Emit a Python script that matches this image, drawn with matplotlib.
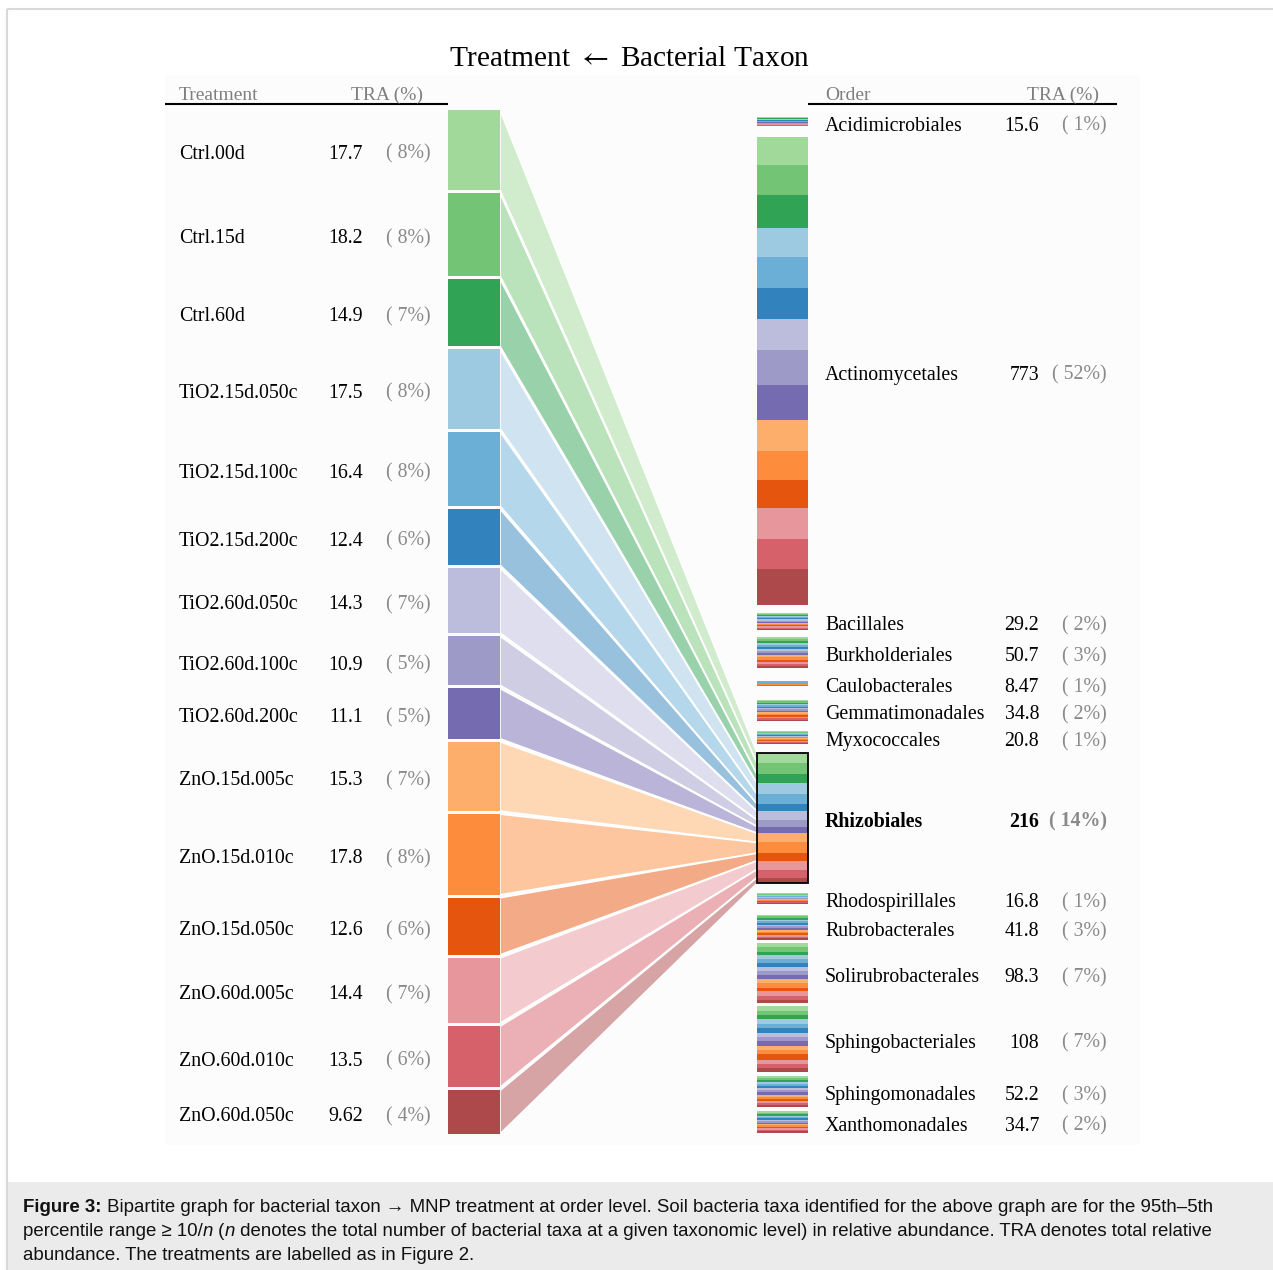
import matplotlib
matplotlib.use("Agg")
import matplotlib.pyplot as plt
from matplotlib.patches import Rectangle, Polygon
from matplotlib.colors import to_rgb
import numpy as np

plt.rcParams["mathtext.fontset"] = "stix"

SERIF = ["Liberation Serif", "DejaVu Serif"]
SANS = ["Liberation Sans", "DejaVu Sans"]

# ---------------------------------------------------------------- data
treatments = ["Ctrl.00d", "Ctrl.15d", "Ctrl.60d",
              "TiO2.15d.050c", "TiO2.15d.100c", "TiO2.15d.200c",
              "TiO2.60d.050c", "TiO2.60d.100c", "TiO2.60d.200c",
              "ZnO.15d.005c", "ZnO.15d.010c", "ZnO.15d.050c",
              "ZnO.60d.005c", "ZnO.60d.010c", "ZnO.60d.050c"]
# Rhizobiales abundance in each treatment
treatment_tra = [17.7, 18.2, 14.9, 17.5, 16.4, 12.4, 14.3, 10.9, 11.1,
                 15.3, 17.8, 12.6, 14.4, 13.5, 9.62]
treatment_colors = ["#a1d99b", "#74c476", "#31a354",
                    "#9ecae1", "#6baed6", "#3182bd",
                    "#bcbddc", "#9e9ac8", "#756bb1",
                    "#fdae6b", "#fd8d3c", "#e6550d",
                    "#e7969c", "#d6616b", "#ad494a"]

orders = ["Acidimicrobiales", "Actinomycetales", "Bacillales", "Burkholderiales",
          "Caulobacterales", "Gemmatimonadales", "Myxococcales", "Rhizobiales",
          "Rhodospirillales", "Rubrobacterales", "Solirubrobacterales",
          "Sphingobacteriales", "Sphingomonadales", "Xanthomonadales"]
order_tra = [15.6, 773, 29.2, 50.7, 8.47, 34.8, 20.8, 216, 16.8, 41.8,
             98.3, 108, 52.2, 34.7]
highlight = "Rhizobiales"

# abundance of each order split over the 15 treatments (same order as above)
acidimicrobiales = [1.2, 1.0, 0.9, 1.1, 1.0, 0.8, 1.2, 0.9, 1.0, 1.2, 1.1, 0.9, 1.3, 1.0, 1.0]
actinomycetales = [46.3, 49.6, 54.5, 47.9, 51.2, 51.2, 51.2, 57.9, 57.9,
                   51.2, 47.9, 46.3, 51.2, 49.6, 59.1]
bacillales = [1.8, 2.0, 1.7, 2.1, 1.9, 1.6, 2.2, 1.8, 1.9, 2.3, 2.0, 1.8, 2.2, 2.1, 1.8]
burkholderiales = [3.2, 3.5, 3.0, 3.6, 3.3, 3.1, 3.4, 3.2, 3.5, 3.6, 3.8, 3.4, 3.5, 3.3, 3.3]
caulobacterales = [0.52, 0.60, 0.50, 0.58, 0.54, 0.49, 0.60, 0.53, 0.56,
                   0.62, 0.58, 0.55, 0.61, 0.59, 0.60]
gemmatimonadales = [2.1, 2.3, 2.0, 2.4, 2.2, 2.0, 2.5, 2.3, 2.4, 2.6, 2.5, 2.2, 2.6, 2.4, 2.3]
myxococcales = [1.3, 1.4, 1.2, 1.5, 1.4, 1.2, 1.5, 1.3, 1.4, 1.5, 1.4, 1.3, 1.5, 1.5, 1.4]
rhizobiales = treatment_tra
rhodospirillales = [1.1, 1.2, 1.0, 1.2, 1.1, 1.0, 1.2, 1.0, 1.1, 1.2, 1.2, 1.0, 1.2, 1.1, 1.2]
rubrobacterales = [2.8, 3.0, 2.6, 2.9, 2.8, 2.5, 2.9, 2.7, 2.8, 3.0, 2.9, 2.6, 3.0, 2.8, 2.5]
solirubrobacterales = [6.5, 6.8, 6.2, 6.9, 6.6, 6.0, 7.1, 6.4, 6.7, 6.8, 7.0, 6.3, 6.9, 6.5, 5.6]
sphingobacteriales = [6.8, 7.2, 7.0, 7.4, 7.1, 7.8, 7.3, 6.9, 7.5, 7.2, 7.0, 8.6, 7.1, 6.9, 6.2]
sphingomonadales = [3.3, 3.5, 3.2, 3.6, 3.4, 3.3, 3.7, 3.4, 3.5, 3.6, 3.7, 3.4, 3.6, 3.5, 3.5]
xanthomonadales = [2.2, 2.4, 2.1, 2.4, 2.3, 2.2, 2.4, 2.2, 2.3, 2.5, 2.4, 2.2, 2.5, 2.3, 2.3]

order_splits = [acidimicrobiales, actinomycetales, bacillales, burkholderiales,
                caulobacterales, gemmatimonadales, myxococcales, rhizobiales,
                rhodospirillales, rubrobacterales, solirubrobacterales,
                sphingobacteriales, sphingomonadales, xanthomonadales]

caption_lines = [
    [("Figure 3:", "bold"),
     (" Bipartite graph for bacterial taxon \u2192 MNP treatment at order level. "
      "Soil bacteria taxa identified for the above graph are for the 95th\u20135th", "normal")],
    [("percentile range \u2265 10/", "normal"), ("n", "italic"), (" (", "normal"),
     ("n", "italic"),
     (" denotes the total number of bacterial taxa at a given taxonomic level) in "
      "relative abundance. TRA denotes total relative", "normal")],
    [("abundance. The treatments are labelled as in Figure 2.", "normal")],
]

# ---------------------------------------------------------------- canvas
W, H = 1273, 1270
fig = plt.figure(figsize=(W / 100, H / 100), dpi=100)
ax = fig.add_axes([0, 0, 1, 1])
ax.set_xlim(0, W)
ax.set_ylim(H, 0)
ax.axis("off")

# page frame, caption panel and plot panel
ax.add_patch(Rectangle((8, 1182), W - 8, H - 1182, fc="#ebebeb", ec="none", zorder=0))
ax.plot([7, 7], [9, H], color="#d9d9d9", lw=1.5, solid_capstyle="butt", zorder=1)
ax.plot([7, W], [9, 9], color="#d9d9d9", lw=1.5, solid_capstyle="butt", zorder=1)
ax.add_patch(Rectangle((165, 75), 975, 1070, fc="#fcfcfc", ec="none", zorder=0))

# ---------------------------------------------------------------- layout
L_X, L_W, L_TOP, L_BOT, L_GAP = 448, 52, 110, 1134, 3
l_scale = (L_BOT - L_TOP - L_GAP * (len(treatments) - 1)) / sum(treatment_tra)
left_spans = []
y = L_TOP
for v in treatment_tra:
    h = v * l_scale
    left_spans.append((y, y + h))
    y += h + L_GAP

R_X, R_W, R_TOP, R_BOT = 757, 51, 117, 1132.5
order_gaps = [10.5, 7.5, 7, 13, 14, 10, 9, 10, 11, 3.5, 3.5, 4, 4]
r_scale = (R_BOT - R_TOP - sum(order_gaps)) / sum(order_tra)
right_spans = []
y = R_TOP
for i, v in enumerate(order_tra):
    h = v * r_scale
    right_spans.append((y, y + h))
    if i < len(order_gaps):
        y += h + order_gaps[i]

# ---------------------------------------------------------------- right stacks
stripe_spans = {}
for name, split, (y0, y1) in zip(orders, order_splits, right_spans):
    tot = sum(split)
    yy = y0
    spans = []
    for v, c in zip(split, treatment_colors):
        h = v / tot * (y1 - y0)
        ax.add_patch(Rectangle((R_X, yy), R_W, h, fc=c, ec="none", zorder=3))
        spans.append((yy, yy + h))
        yy += h
    stripe_spans[name] = spans
    if name == highlight:
        ax.add_patch(Rectangle((R_X, y0), R_W, y1 - y0, fill=False,
                               ec="black", lw=1.3, zorder=4))

# ---------------------------------------------------------------- flows
for (a0, a1), (b0, b1), c in zip(left_spans, stripe_spans[highlight], treatment_colors):
    face = np.array(to_rgb(c)) * 0.5 + 0.5
    ax.add_patch(Polygon([(L_X + L_W, a0), (R_X, b0), (R_X, b1), (L_X + L_W, a1)],
                         closed=True, fc=face, ec="white", lw=1.2, zorder=2))

# ---------------------------------------------------------------- left bars
for (a0, a1), c in zip(left_spans, treatment_colors):
    ax.add_patch(Rectangle((L_X, a0), L_W, a1 - a0, fc=c, ec="none", zorder=3))

# ---------------------------------------------------------------- texts
FS = 14.3
GRAY = "#8a8a8a"
BASE = 8.8

ax.text(629, 59, r"Treatment $\leftarrow$ Bacterial Taxon", family=SERIF, fontsize=21.2,
        ha="center", va="center", color="black")

# column headers
ax.text(179, 100, "Treatment", family=SERIF, fontsize=14, color="#7f7f7f", va="baseline")
ax.text(423, 100, "TRA (%)", family=SERIF, fontsize=14, color="#7f7f7f",
        ha="right", va="baseline")
ax.plot([165, 448], [104, 104], color="black", lw=1.5, solid_capstyle="butt")
ax.text(825, 100, "Order", family=SERIF, fontsize=14, color="#7f7f7f", va="baseline")
ax.text(1099, 100, "TRA (%)", family=SERIF, fontsize=14, color="#7f7f7f",
        ha="right", va="baseline")
ax.plot([808, 1117], [104, 104], color="black", lw=1.5, solid_capstyle="butt")

l_total = sum(treatment_tra)
for name, v, (a0, a1) in zip(treatments, treatment_tra, left_spans):
    yb = (a0 + a1) / 2 + BASE
    ax.text(179, yb, name, family=SERIF, fontsize=FS, va="baseline")
    ax.text(363, yb, f"{v:.3g}", family=SERIF, fontsize=FS, va="baseline", ha="right")
    ax.text(431, yb, f"( {round(100 * v / l_total):d}%)", family=SERIF, fontsize=FS,
            va="baseline", ha="right", color=GRAY)

r_total = sum(order_tra)
for name, v, (y0, y1) in zip(orders, order_tra, right_spans):
    yb = (y0 + y1) / 2 + BASE
    wt = "bold" if name == highlight else "normal"
    ax.text(825, yb, name, family=SERIF, fontsize=FS, va="baseline", weight=wt)
    ax.text(1039, yb, f"{v:.3g}", family=SERIF, fontsize=FS, va="baseline",
            ha="right", weight=wt)
    ax.text(1107, yb, f"( {round(100 * v / r_total):d}%)", family=SERIF, fontsize=FS,
            va="baseline", ha="right", color=GRAY, weight=wt)

# ---------------------------------------------------------------- caption
renderer = fig.canvas.get_renderer()
CAP_FS = 13.45


def run_width(s, **kw):
    t1 = ax.text(0, 0, "|" + s + "|", **kw)
    t2 = ax.text(0, 0, "||", **kw)
    w = t1.get_window_extent(renderer).width - t2.get_window_extent(renderer).width
    t1.remove()
    t2.remove()
    return w


for k, runs in enumerate(caption_lines):
    x = 23
    yb = 1212 + 24 * k
    for s, style in runs:
        kw = dict(family=SANS, fontsize=CAP_FS, color="#111111")
        if style == "bold":
            kw["weight"] = "bold"
        elif style == "italic":
            kw["style"] = "italic"
        ax.text(x, yb, s, va="baseline", **kw)
        x += run_width(s, **kw)

fig.savefig("out.png", dpi=100)
